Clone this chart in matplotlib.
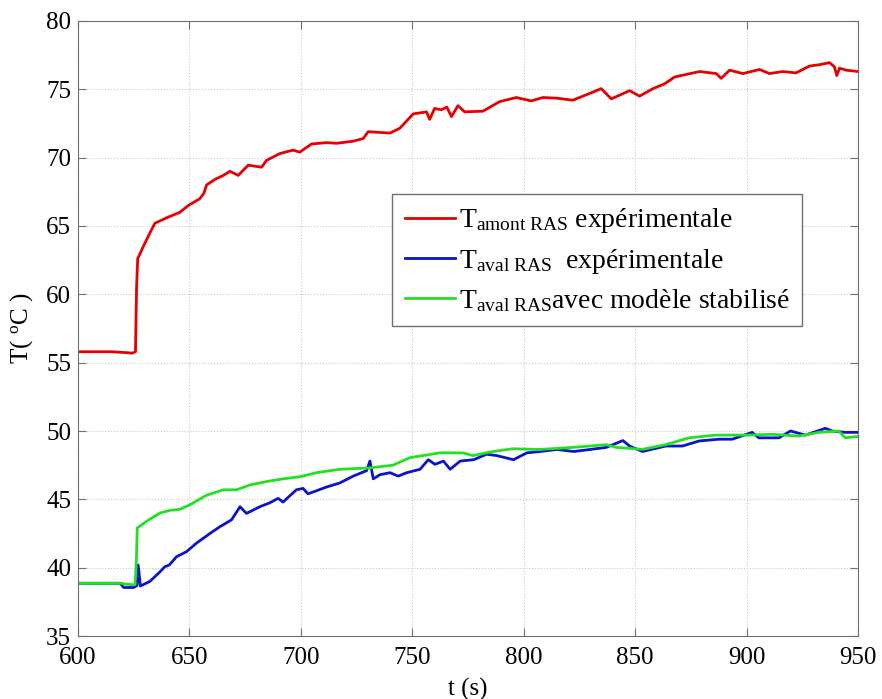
import matplotlib
matplotlib.use('Agg')
import matplotlib.pyplot as plt

plt.rcParams['font.family'] = ['Liberation Serif', 'DejaVu Serif']
plt.rcParams['mathtext.fontset'] = 'custom'
plt.rcParams['mathtext.rm'] = 'Liberation Serif'
plt.rcParams['mathtext.it'] = 'Liberation Serif:italic'

# T amont RAS, experimental
red_t = [600, 615, 620, 624.5, 625.8, 626.3, 626.8, 629.3, 632.3, 634.5,
         639.8, 645.7, 649.5, 654.7, 656.5, 657.7, 661.4, 665.2, 668.2, 671.9,
         676.4, 682.4, 684.6, 690.6, 696.5, 699.5, 704.8, 711.5, 716, 723.4,
         728, 730.2, 735, 740, 744.4, 750.4, 756.4, 757.8, 760, 763,
         765.5, 767.6, 770.5, 773.5, 781.7, 789.2, 796.7, 803.4, 808.6, 815,
         822, 829.6, 834.8, 839.3, 847.5, 852, 858, 863.2, 867.7, 878.9,
         886.4, 888.6, 892.4, 898.3, 905.8, 910.3, 916.2, 922.2, 928.2, 932.7,
         937.2, 939.4, 940.5, 941.7, 944.7, 950]
red_T = [55.8, 55.8, 55.75, 55.7, 55.8, 60.5, 62.6, 63.5, 64.5, 65.2,
         65.6, 66.0, 66.5, 67.0, 67.4, 68.0, 68.4, 68.7, 69.0, 68.7,
         69.45, 69.3, 69.8, 70.3, 70.55, 70.4, 71.0, 71.1, 71.05, 71.2,
         71.4, 71.9, 71.85, 71.8, 72.15, 73.2, 73.35, 72.8, 73.6, 73.5,
         73.7, 73.0, 73.8, 73.35, 73.4, 74.1, 74.4, 74.15, 74.4, 74.35,
         74.2, 74.7, 75.05, 74.3, 74.9, 74.5, 75.05, 75.4, 75.9, 76.3,
         76.15, 75.8, 76.4, 76.15, 76.45, 76.15, 76.3, 76.2, 76.7, 76.8,
         76.95, 76.65, 76.0, 76.55, 76.4, 76.3]

# T aval RAS, experimental
blue_t = [600, 619, 620.5, 625, 626.5, 627, 628, 632.3, 636.8, 639,
          641, 644.2, 648.7, 653.2, 659.2, 663.7, 668.9, 672.7, 675.6, 681.6,
          686.1, 689.8, 692, 698, 701, 703.2, 711.5, 717.5, 723.5, 729.5,
          731, 732.5, 735.5, 740, 743.7, 747.5, 753.5, 757.2, 760.2, 764,
          767, 771.5, 777.5, 783.4, 787.9, 795.4, 801.4, 807.4, 814.9, 822.4,
          829.9, 837, 844.5, 847.5, 853.3, 863.7, 871.2, 878.7, 887.6, 893.6,
          902.5, 905.5, 914.5, 919.7, 926.4, 935.4, 938.4, 944.3, 950]
blue_T = [38.86, 38.86, 38.55, 38.55, 38.7, 40.2, 38.66, 39.0, 39.7, 40.07,
          40.2, 40.8, 41.17, 41.8, 42.5, 43.0, 43.5, 44.46, 43.97, 44.46,
          44.75, 45.07, 44.8, 45.7, 45.8, 45.4, 45.9, 46.2, 46.7, 47.1,
          47.8, 46.5, 46.8, 46.95, 46.7, 46.95, 47.2, 47.9, 47.56, 47.8,
          47.2, 47.8, 47.9, 48.3, 48.2, 47.9, 48.4, 48.5, 48.65, 48.5,
          48.65, 48.8, 49.3, 48.9, 48.5, 48.9, 48.9, 49.27, 49.4, 49.4,
          49.9, 49.5, 49.5, 50.0, 49.7, 50.2, 50.0, 49.9, 49.9]

# T aval RAS, stabilised model
green_t = [600, 619.6, 622, 625.6, 626.2, 626.6, 630.8, 636.8, 641.3, 645.7,
           650.2, 657.7, 665.2, 671.2, 677.1, 684.6, 692, 699.5, 707, 717.5,
           731, 741.4, 748.9, 754.8, 762.3, 772.7, 777.2, 786.2, 795.1, 807.1,
           822, 837, 841.5, 853.3, 863.7, 874.2, 886.1, 901, 911.5, 923.4,
           932.4, 941.3, 944.3, 950]
green_T = [38.86, 38.86, 38.78, 38.75, 40.5, 42.9, 43.4, 44.0, 44.2, 44.27,
           44.6, 45.3, 45.7, 45.7, 46.05, 46.3, 46.5, 46.65, 46.95, 47.2,
           47.3, 47.5, 48.05, 48.2, 48.4, 48.4, 48.2, 48.5, 48.7, 48.65,
           48.8, 49.0, 48.8, 48.66, 49.0, 49.5, 49.7, 49.7, 49.76, 49.63,
           49.9, 50.0, 49.5, 49.6]

labels = [r'$\mathrm{T}_{\mathrm{amont\ RAS}}$ expérimentale',
          r'$\mathrm{T}_{\mathrm{aval\ RAS}}$  expérimentale',
          r'$\mathrm{T}_{\mathrm{aval\ RAS}}$avec modèle stabilisé']

fig = plt.figure(figsize=(8.82, 6.99), dpi=100)
ax = fig.add_axes([0.0884, 0.0901, 0.8844, 0.8799])

ax.plot(red_t, red_T, color='#e60000', lw=2.0, label=labels[0])
ax.plot(blue_t, blue_T, color='#0a14c8', lw=2.0, label=labels[1])
ax.plot(green_t, green_T, color='#22e022', lw=2.0, label=labels[2])

ax.set_xlim(600, 950)
ax.set_ylim(35, 80)
ax.set_xticks(range(600, 951, 50))
ax.set_yticks(range(35, 81, 5))
ax.grid(True, color='#c8c8c8', linestyle=':', lw=0.8)
ax.tick_params(direction='in', length=6, top=True, right=True,
               labelsize=18, color='#707070')
ax.tick_params(axis='x', pad=8)
ax.tick_params(axis='y', pad=5)
for s in ax.spines.values():
    s.set_color('#707070')

ax.set_xlabel('t (s)', fontsize=18, labelpad=6)
ax.set_ylabel(r'T( $^{\mathrm{o}}$C )', fontsize=18, labelpad=8)

leg = ax.legend(loc='upper left', bbox_to_anchor=(0.4026, 0.7187),
                borderaxespad=0, fontsize=20, handlelength=1.8,
                handletextpad=0.15, labelspacing=0.4, borderpad=0.45,
                fancybox=False, framealpha=1)
leg.get_frame().set_edgecolor('#707070')
leg.get_frame().set_linewidth(1.0)

fig.savefig('out.png', dpi=100)
